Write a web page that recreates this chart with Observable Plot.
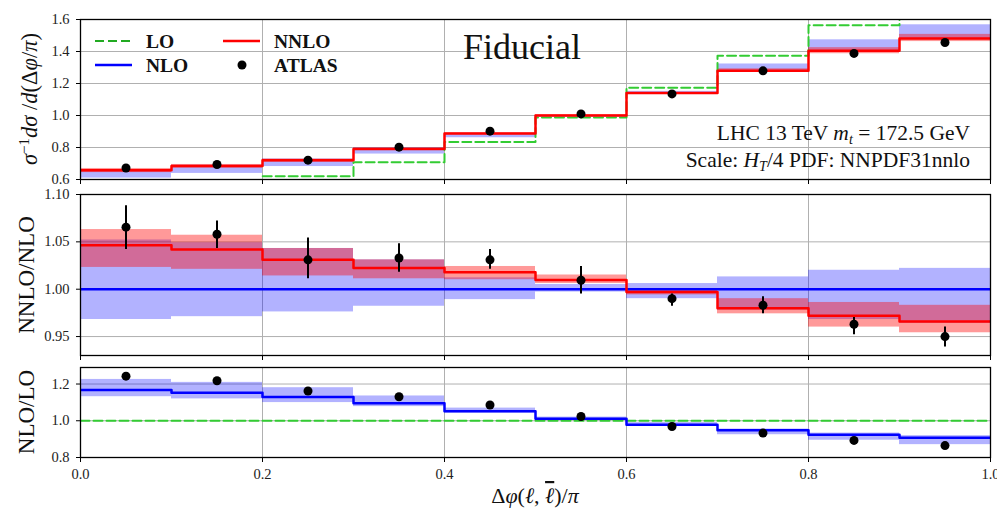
<!DOCTYPE html>
<html><head><meta charset="utf-8">
<script src="https://cdn.jsdelivr.net/npm/d3@7"></script>
<script src="https://cdn.jsdelivr.net/npm/@observablehq/plot@0.6"></script>
<style>
body{margin:0;background:#fff;}
#wrap{position:relative;width:997px;height:509px;overflow:hidden;background:#fff;}
#wrap svg{position:absolute;left:0;background:transparent;}
</style></head><body><div id="wrap"></div>
<script>
// ---- bins ----
const binLo = [0.0,0.1,0.2,0.3,0.4,0.5,0.6,0.7,0.8,0.9];
const binHi = [0.1,0.2,0.3,0.4,0.5,0.6,0.7,0.8,0.9,1.0];
const binMid = [0.05,0.15,0.25,0.35,0.45,0.55,0.65,0.75,0.85,0.95];
const xTicks = [0.0,0.2,0.4,0.6,0.8,1.0];

// ---- top panel: normalised distribution ----
const topTicks = [0.6,0.8,1.0,1.2,1.4,1.6];
const loTop   = [0.540,0.570,0.620,0.708,0.835,0.987,1.173,1.374,1.564,1.690];
const nnloTop = [0.658,0.685,0.720,0.790,0.887,1.000,1.141,1.279,1.404,1.481];
const nloTopLo  = [0.609,0.638,0.681,0.759,0.861,0.988,1.133,1.276,1.398,1.478];
const nloTopHi  = [0.662,0.689,0.728,0.797,0.881,0.996,1.151,1.322,1.473,1.567];
const nnloTopLo = [0.643,0.671,0.708,0.782,0.880,0.997,1.137,1.271,1.386,1.462];
const nnloTopHi = [0.669,0.694,0.728,0.797,0.892,1.006,1.143,1.292,1.424,1.507];
const atlasTop  = [0.672,0.694,0.721,0.802,0.902,1.010,1.135,1.279,1.388,1.456];

// ---- middle panel: NNLO/NLO ----
const midTicks = [0.95,1.00,1.05,1.10];
const nloMid   = [1,1,1,1,1,1,1,1,1,1];
const nnloMid  = [1.0465,1.042,1.031,1.0225,1.018,1.0098,0.997,0.980,0.972,0.966];
const nloMidLo = [0.968,0.971,0.976,0.982,0.989,0.997,0.990,0.978,0.968,0.964];
const nloMidHi = [1.052,1.049,1.043,1.031,1.012,1.005,1.006,1.013,1.020,1.022];
const nnloMidLo = [1.023,1.021,1.014,1.011,1.010,1.006,0.994,0.974,0.960,0.954];
const nnloMidHi = [1.063,1.057,1.043,1.031,1.024,1.015,0.999,0.990,0.986,0.983];
const atlasMid   = [1.0655,1.058,1.031,1.033,1.031,1.0095,0.990,0.983,0.963,0.950];
const atlasMidLo = [1.042,1.043,1.011,1.018,1.021,0.995,0.982,0.974,0.952,0.939];
const atlasMidHi = [1.088,1.072,1.054,1.048,1.042,1.024,0.995,0.992,0.970,0.960];

// ---- bottom panel: NLO/LO ----
const botTicks = [0.8,1.0,1.2];
const loBot    = [1,1,1,1,1,1,1,1,1,1];
const nloBot   = [1.168,1.153,1.130,1.096,1.052,1.011,0.978,0.948,0.924,0.908];
const nloBotLo = [1.131,1.119,1.099,1.077,1.042,1.005,0.972,0.924,0.894,0.870];
const nloBotHi = [1.225,1.209,1.180,1.135,1.069,1.020,0.990,0.955,0.933,0.919];
const atlasBot = [1.243,1.218,1.162,1.131,1.086,1.023,0.969,0.933,0.893,0.865];

const C = {lo:"#33cc33", nlo:"#0000ff", nnlo:"#ff0000", grid:"#b0b0b0"};
const DASH = "9,4";
const idx = d3.range(binLo.length);
const steps = v => idx.map(i => ({x: binLo[i], y: v[i]})).concat([{x: binHi[binHi.length-1], y: v[v.length-1]}]);
const band = (lo, hi, fill, op) => Plot.rect(idx, {x1: i => binLo[i], x2: i => binHi[i], y1: i => lo[i], y2: i => hi[i], fill, fillOpacity: op, clip: true});
const stepLine = (v, stroke, extra={}) => Plot.line(steps(v), {x:"x", y:"y", curve:"step-after", stroke, strokeWidth:2.5, clip:true, ...extra});

const fontStyle = {fontFamily:"'Liberation Serif', serif", fontSize:"14.5px", color:"#222", background:"transparent"};

function panel({top, height, mt, mb, domain, yTicks, yFmt, marks, xLabels}) {
  const svg = Plot.plot({
    width: 997, height, marginTop: mt, marginBottom: mb, marginLeft: 80, marginRight: 7,
    style: fontStyle,
    x: {domain: [0, 1]},
    y: {domain},
    marks: [
      Plot.ruleX(xTicks, {stroke: C.grid, strokeWidth: 1}),
      Plot.ruleY(yTicks, {stroke: C.grid, strokeWidth: 1}),
      ...marks,
      Plot.frame({stroke: "black", strokeWidth: 1.3}),
      Plot.axisY({ticks: yTicks, tickFormat: d3.format(yFmt), tickSize: 4, tickPadding: 7, label: null, stroke:"black"}),
      Plot.axisX({ticks: xTicks, tickFormat: xLabels ? d3.format(".1f") : () => "", tickSize: 5, tickPadding: 6, label: null, stroke:"black"})
    ]
  });
  svg.style.top = top + "px";
  document.getElementById("wrap").appendChild(svg);
}

panel({top: 0, height: 190, mt: 19, mb: 11, domain: [0.6, 1.6], yTicks: topTicks, yFmt: ".1f", marks: [
  band(nloTopLo, nloTopHi, C.nlo, 0.3),
  band(nnloTopLo, nnloTopHi, C.nnlo, 0.4),
  stepLine(loTop, C.lo, {strokeWidth: 2, strokeDasharray: DASH}),
  stepLine(nnloTop, C.nnlo),
  Plot.dot(idx, {x: i => binMid[i], y: i => atlasTop[i], r: 4.5, fill: "black"})
]});

panel({top: 186, height: 176, mt: 8, mb: 7, domain: [0.93, 1.10], yTicks: midTicks, yFmt: ".2f", marks: [
  band(nloMidLo, nloMidHi, C.nlo, 0.3),
  band(nnloMidLo, nnloMidHi, C.nnlo, 0.4),
  stepLine(nloMid, C.nlo),
  stepLine(nnloMid, C.nnlo),
  Plot.ruleX(idx, {x: i => binMid[i], y1: i => atlasMidLo[i], y2: i => atlasMidHi[i], stroke: "black", strokeWidth: 2}),
  Plot.dot(idx, {x: i => binMid[i], y: i => atlasMid[i], r: 4.5, fill: "black"})
]});

panel({top: 362, height: 147, mt: 5, mb: 52, domain: [0.8, 1.29], yTicks: botTicks, yFmt: ".1f", xLabels: true, marks: [
  band(nloBotLo, nloBotHi, C.nlo, 0.3),
  stepLine(loBot, C.lo, {strokeWidth: 2, strokeDasharray: DASH}),
  stepLine(nloBot, C.nlo),
  Plot.dot(idx, {x: i => binMid[i], y: i => atlasBot[i], r: 4.5, fill: "black"})
]});

// ---- overlay: labels, legend, annotations ----
const ov = d3.select("#wrap").append("svg").attr("width", 997).attr("height", 509)
  .style("top", "0px").style("pointer-events", "none")
  .attr("font-family", "'Liberation Serif', serif").attr("fill", "#111");

// legend
const leg = [
  {label: "LO",    x: 95,  y: 41, type: "dash", color: C.lo},
  {label: "NLO",   x: 95,  y: 65, type: "line", color: C.nlo},
  {label: "NNLO",  x: 223, y: 41, type: "line", color: C.nnlo},
  {label: "ATLAS", x: 223, y: 65, type: "dot",  color: "black"}
];
leg.forEach(d => {
  if (d.type === "dot") ov.append("circle").attr("cx", d.x + 19).attr("cy", d.y).attr("r", 4.5).attr("fill", d.color);
  else ov.append("line").attr("x1", d.x).attr("x2", d.x + 37).attr("y1", d.y).attr("y2", d.y)
        .attr("stroke", d.type === "dash" ? "#22aa22" : d.color).attr("stroke-width", d.type === "dash" ? 2.2 : 2.5)
        .attr("stroke-dasharray", d.type === "dash" ? DASH : null);
  ov.append("text").attr("x", d.x + 51).attr("y", d.y + 7).attr("font-size", 19.5).attr("font-weight", "bold").text(d.label);
});

ov.append("text").attr("x", 522).attr("y", 59).attr("text-anchor", "middle").attr("font-size", 36).text("Fiducial");

const t1 = ov.append("text").attr("x", 970).attr("y", 140).attr("text-anchor", "end").attr("font-size", 21.5);
t1.append("tspan").text("LHC 13 TeV ");
t1.append("tspan").attr("font-style", "italic").text("m");
t1.append("tspan").attr("font-style", "italic").attr("font-size", 14).attr("dy", 4).text("t");
t1.append("tspan").attr("dy", -4).text(" = 172.5 GeV");

const t2 = ov.append("text").attr("x", 970).attr("y", 167).attr("text-anchor", "end").attr("font-size", 21.5);
t2.append("tspan").text("Scale: ");
t2.append("tspan").attr("font-style", "italic").text("H");
t2.append("tspan").attr("font-style", "italic").attr("font-size", 14).attr("dy", 4).text("T");
t2.append("tspan").attr("dy", -4).text("/4 PDF: NNPDF31nnlo");

// y labels
const yl1 = ov.append("text").attr("transform", "translate(37,99) rotate(-90)").attr("text-anchor", "middle").attr("font-size", 22.5);
yl1.append("tspan").attr("font-style", "italic").text("σ");
yl1.append("tspan").attr("font-size", 15).attr("dy", -8).text("−1");
yl1.append("tspan").attr("dy", 8).attr("font-style", "italic").text("dσ");
yl1.append("tspan").text(" /");
yl1.append("tspan").attr("font-style", "italic").text("d");
yl1.append("tspan").text("(Δ");
yl1.append("tspan").attr("font-style", "italic").text("φ");
yl1.append("tspan").text("/");
yl1.append("tspan").attr("font-style", "italic").text("π");
yl1.append("tspan").text(")");

ov.append("text").attr("transform", "translate(34,275) rotate(-90)").attr("text-anchor", "middle").attr("font-size", 23).text("NNLO/NLO");
ov.append("text").attr("transform", "translate(34,412) rotate(-90)").attr("text-anchor", "middle").attr("font-size", 23).text("NLO/LO");

// x label
const xl = ov.append("text").attr("x", 535).attr("y", 503).attr("text-anchor", "middle").attr("font-size", 22);
xl.append("tspan").text("Δ");
xl.append("tspan").attr("font-style", "italic").text("φ");
xl.append("tspan").text("(");
xl.append("tspan").attr("font-style", "italic").text("ℓ");
xl.append("tspan").text(", ");
xl.append("tspan").attr("font-style", "italic").style("text-decoration", "overline").text("ℓ");
xl.append("tspan").text(")/");
xl.append("tspan").attr("font-style", "italic").text("π");
</script></body></html>
